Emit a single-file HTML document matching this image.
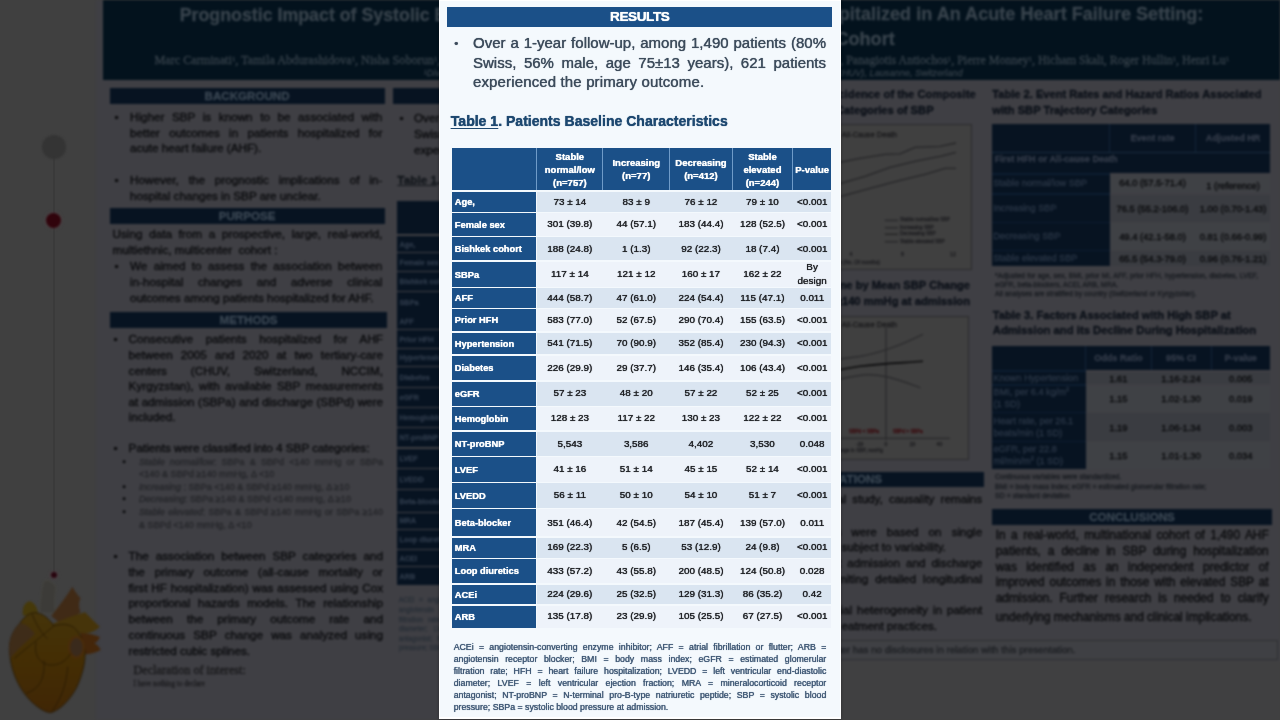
<!DOCTYPE html>
<html lang="en"><head><meta charset="utf-8"><title>Poster - Results</title>
<style>
html,body{margin:0;padding:0;}
body{width:1280px;height:720px;overflow:hidden;background:#404040;font-family:"Liberation Sans",sans-serif;position:relative;}
.t{position:absolute;white-space:nowrap;margin:0;padding:0;}
.r{position:absolute;}
#poster{position:absolute;left:0;top:0;width:1280px;height:720px;filter:blur(0.8px);-webkit-text-stroke:0.3px currentColor;}
#modal{z-index:5;position:absolute;left:438.7px;top:0;width:402.6px;height:718.6px;background:#ffffff;box-shadow:0 0 3px rgba(0,0,0,.3);}
#minner{position:absolute;left:1.4px;top:0.6px;width:399.8px;height:716.6px;background:#f4f9fd;}
#mfx{position:absolute;left:0;top:0;width:402.6px;height:718.6px;-webkit-text-stroke:0.15px currentColor;}
#mfx .t{text-shadow:0 0 0.8px currentColor;}
table{border-collapse:separate;border-spacing:0;}
</style></head><body>

<div id="rail">
<div class="r" style="left:53.1px;top:150.0px;width:1.8px;height:425.0px;background:#3a3a3a;"></div>
<div class="r" style="left:41.8px;top:134.7px;width:24px;height:24px;border-radius:50%;background:#343434;filter:blur(0.8px);"></div>
<div class="r" style="left:46.3px;top:212.5px;width:15px;height:15px;border-radius:50%;background:#30040c;box-shadow:0 0 2px 1px rgba(90,70,74,.55);filter:blur(0.8px);"></div>
<div class="r" style="left:50.6px;top:571.6px;width:6.8px;height:6.8px;border-radius:50%;background:#28050f;box-shadow:0 0 2px 1px rgba(90,66,74,.6);filter:blur(0.8px);z-index:3;"></div>
<svg class="r" style="left:0;top:572px;filter:blur(0.8px);z-index:2;" width="112" height="148" viewBox="0 0 545 720"><defs><linearGradient id="hg" x1="0" y1="0" x2="0" y2="1"><stop offset="0" stop-color="#45340a"/><stop offset="0.45" stop-color="#442e04"/><stop offset="1" stop-color="#402606"/></linearGradient></defs><path d="M192,200 C196,140 202,84 214,44 C232,34 256,48 272,72 C266,110 264,150 268,200 Z" fill="#3c3b38" stroke="#45443f" stroke-width="5"/><path d="M112,212 C106,176 118,146 146,142 C170,150 182,176 190,214 Z" fill="#46390a"/><path d="M250,214 C286,168 318,128 352,72 C366,96 376,112 392,128 C380,150 384,176 392,196 C360,222 318,238 286,244 Z" fill="#402a16"/><path d="M236,262 C300,232 360,210 414,196 C440,224 462,246 486,266 C466,286 440,296 410,300 C350,300 290,300 246,318 Z" fill="#46340a"/><path d="M392,296 C430,300 460,306 486,316 C480,332 470,342 458,346 C474,356 484,366 490,380 C470,392 446,398 420,400 C406,400 396,396 388,390 Z" fill="#44260a"/><path d="M96,250 C56,290 36,350 50,420 C60,500 100,580 154,632 C190,664 220,684 250,684 C296,668 340,624 374,560 C398,506 416,446 414,390 C410,340 392,300 360,270 C330,250 296,252 262,262 C236,222 200,196 166,198 C136,202 114,222 96,250 Z" fill="url(#hg)" stroke="#241704" stroke-width="4"/><path d="M50,420 C34,352 52,290 96,250 C112,246 140,262 170,300 C136,334 88,372 50,420 Z" fill="#3e2c1c" opacity="0.9"/><ellipse cx="372" cy="366" rx="36" ry="50" fill="#3a2a1c" stroke="#4a2c0a" stroke-width="11"/><g fill="none" stroke="#231603" stroke-width="3.5"><path d="M70,420 C130,370 206,310 262,262"/><path d="M176,340 C164,396 186,440 236,452 C290,458 326,428 344,396"/><path d="M214,430 C220,510 196,570 126,590"/><path d="M330,460 C322,550 300,612 254,676"/><path d="M156,204 C176,256 204,300 232,326"/></g></svg>
</div>
<div id="poster">
<div class="r" style="left:96.0px;top:0.0px;width:1184.0px;height:720.0px;background:#3f3f44;"></div>
<div class="r" style="left:102.5px;top:0.0px;width:1177.5px;height:79.7px;background:#03121d;"></div>
<div class="t" style="left:179.7px;top:3.6px;font-size:17.8px;line-height:23.14px;color:#38434c;font-weight:bold;">Prognostic Impact of Systolic Blood Pressure Trajectories</div>
<div class="t" style="left:303.4px;top:3.4px;font-size:18.1px;line-height:23.53px;color:#38434c;width:900.0px;font-weight:bold;text-align:right;">in Patients Hospitalized in An Acute Heart Failure Setting:</div>
<div class="t" style="left:-5.3px;top:28.4px;font-size:18.1px;line-height:23.53px;color:#38434c;width:900.0px;font-weight:bold;text-align:right;">Insights from a Swiss-Kyrgyz Multicenter Cohort</div>
<div class="t" style="left:154.4px;top:52.8px;font-size:12.2px;line-height:15.86px;color:#36414a;font-family:'Liberation Serif', serif;">Marc Carminati<sup style="font-size:55%;line-height:0;vertical-align:baseline;position:relative;top:-0.45em;">1</sup>, Tamila Abdurashidova<sup style="font-size:55%;line-height:0;vertical-align:baseline;position:relative;top:-0.45em;">1</sup>, Nisha Soborun<sup style="font-size:55%;line-height:0;vertical-align:baseline;position:relative;top:-0.45em;">1</sup>, Sara Schukraft<sup style="font-size:55%;line-height:0;vertical-align:baseline;position:relative;top:-0.45em;">1</sup>,</div>
<div class="t" style="left:329.0px;top:53.0px;font-size:12.0px;line-height:15.6px;color:#36414a;width:900.0px;font-family:'Liberation Serif', serif;text-align:right;">Georgios Tzimas<sup style="font-size:55%;line-height:0;vertical-align:baseline;position:relative;top:-0.45em;">1</sup>, Panagiotis Antiochos<sup style="font-size:55%;line-height:0;vertical-align:baseline;position:relative;top:-0.45em;">1</sup>, Pierre Monney<sup style="font-size:55%;line-height:0;vertical-align:baseline;position:relative;top:-0.45em;">1</sup>, Hicham Skali, Roger Hullin<sup style="font-size:55%;line-height:0;vertical-align:baseline;position:relative;top:-0.45em;">1</sup>, Henri Lu<sup style="font-size:55%;line-height:0;vertical-align:baseline;position:relative;top:-0.45em;">1</sup></div>
<div class="t" style="left:424.0px;top:68.0px;font-size:9.2px;line-height:11.96px;color:#333e47;font-style:italic;"><sup style="font-size:55%;line-height:0;vertical-align:baseline;position:relative;top:-0.45em;">1</sup>Division of Cardiology, Lausanne University</div>
<div class="t" style="left:62.5px;top:68.0px;font-size:9.2px;line-height:11.96px;color:#333e47;width:900.0px;font-style:italic;text-align:right;">Hospital and University of Lausanne (CHUV), Lausanne, Switzerland</div>
<div class="r" style="left:109.5px;top:88.3px;width:275.2px;height:16.1px;background:#071321;"></div>
<div class="t" style="left:109.5px;top:88.1px;font-size:11.6px;line-height:15.08px;color:#3b4753;width:275.2px;font-weight:bold;text-align:center;">BACKGROUND</div>
<div class="r" style="left:109.5px;top:208.3px;width:275.2px;height:15.6px;background:#071321;"></div>
<div class="t" style="left:109.5px;top:207.9px;font-size:11.6px;line-height:15.08px;color:#3b4753;width:275.2px;font-weight:bold;text-align:center;">PURPOSE</div>
<div class="r" style="left:109.7px;top:312.2px;width:277.8px;height:15.8px;background:#071321;"></div>
<div class="t" style="left:109.7px;top:311.9px;font-size:11.6px;line-height:15.08px;color:#3b4753;width:277.8px;font-weight:bold;text-align:center;">METHODS</div>
<div class="r" style="left:393.3px;top:88.3px;width:307.7px;height:16.1px;background:#071321;"></div>
<div class="t" style="left:393.3px;top:88.1px;font-size:11.6px;line-height:15.08px;color:#3b4753;width:307.7px;font-weight:bold;text-align:center;">RESULTS</div>
<div class="r" style="left:708.0px;top:471.5px;width:275.7px;height:15.5px;background:#071321;"></div>
<div class="t" style="left:708.0px;top:471.0px;font-size:11.6px;line-height:15.08px;color:#3b4753;width:275.7px;font-weight:bold;text-align:center;">LIMITATIONS</div>
<div class="r" style="left:992.0px;top:509.3px;width:280.0px;height:15.3px;background:#071321;"></div>
<div class="t" style="left:992.0px;top:508.7px;font-size:11.6px;line-height:15.08px;color:#3b4753;width:280.0px;font-weight:bold;text-align:center;">CONCLUSIONS</div>
<div class="t" style="left:114.5px;top:109.2px;font-size:11.7px;line-height:15.21px;color:#08090b;">•</div>
<div class="t" style="left:130.0px;top:109.2px;font-size:11.7px;line-height:15.21px;color:#08090b;width:252.3px;text-align:justify;text-align-last:justify;">Higher SBP is known to be associated with</div>
<div class="t" style="left:130.0px;top:125.0px;font-size:11.7px;line-height:15.21px;color:#08090b;width:252.3px;text-align:justify;text-align-last:justify;">better outcomes in patients hospitalized for</div>
<div class="t" style="left:130.0px;top:140.4px;font-size:11.7px;line-height:15.21px;color:#08090b;">acute heart failure (AHF).</div>
<div class="t" style="left:114.5px;top:172.2px;font-size:11.7px;line-height:15.21px;color:#08090b;">•</div>
<div class="t" style="left:130.0px;top:172.2px;font-size:11.7px;line-height:15.21px;color:#08090b;width:252.3px;text-align:justify;text-align-last:justify;">However, the prognostic implications of in-</div>
<div class="t" style="left:130.0px;top:187.6px;font-size:11.7px;line-height:15.21px;color:#08090b;">hospital changes in SBP are unclear.</div>
<div class="t" style="left:112.5px;top:226.4px;font-size:11.7px;line-height:15.21px;color:#08090b;width:269.8px;text-align:justify;text-align-last:justify;">Using data from a prospective, large, real-world,</div>
<div class="t" style="left:112.5px;top:242.2px;font-size:11.7px;line-height:15.21px;color:#08090b;">multiethnic, multicenter  cohort :</div>
<div class="t" style="left:114.5px;top:258.2px;font-size:11.7px;line-height:15.21px;color:#08090b;">•</div>
<div class="t" style="left:130.0px;top:258.2px;font-size:11.7px;line-height:15.21px;color:#08090b;width:252.3px;text-align:justify;text-align-last:justify;">We aimed to assess the association between</div>
<div class="t" style="left:130.0px;top:273.9px;font-size:11.7px;line-height:15.21px;color:#08090b;width:252.3px;text-align:justify;text-align-last:justify;">in-hospital changes and adverse clinical</div>
<div class="t" style="left:130.0px;top:289.7px;font-size:11.7px;line-height:15.21px;color:#08090b;">outcomes among patients hospitalized for AHF.</div>
<div class="t" style="left:113.5px;top:330.8px;font-size:11.7px;line-height:15.21px;color:#08090b;">•</div>
<div class="t" style="left:128.6px;top:330.8px;font-size:11.7px;line-height:15.21px;color:#08090b;width:254.4px;text-align:justify;text-align-last:justify;">Consecutive patients hospitalized for AHF</div>
<div class="t" style="left:128.6px;top:346.6px;font-size:11.7px;line-height:15.21px;color:#08090b;width:254.4px;text-align:justify;text-align-last:justify;">between 2005 and 2020 at two tertiary-care</div>
<div class="t" style="left:128.6px;top:362.5px;font-size:11.7px;line-height:15.21px;color:#08090b;width:254.4px;text-align:justify;text-align-last:justify;">centers (CHUV, Switzerland, NCCIM,</div>
<div class="t" style="left:128.6px;top:378.0px;font-size:11.7px;line-height:15.21px;color:#08090b;width:254.4px;text-align:justify;text-align-last:justify;">Kyrgyzstan), with available SBP measurements</div>
<div class="t" style="left:128.6px;top:393.9px;font-size:11.7px;line-height:15.21px;color:#08090b;width:254.4px;text-align:justify;text-align-last:justify;">at admission (SBPa) and discharge (SBPd) were</div>
<div class="t" style="left:128.6px;top:409.4px;font-size:11.7px;line-height:15.21px;color:#08090b;">included.</div>
<div class="t" style="left:113.5px;top:440.4px;font-size:11.7px;line-height:15.21px;color:#08090b;">•</div>
<div class="t" style="left:128.6px;top:440.4px;font-size:11.7px;line-height:15.21px;color:#08090b;">Patients were classified into 4 SBP categories:</div>
<div class="t" style="left:122.5px;top:456.9px;font-size:9.1px;line-height:11.83px;color:#08090b;">•</div>
<div class="t" style="left:139.0px;top:456.9px;font-size:9.1px;line-height:11.83px;color:#25262a;width:244.0px;text-align:justify;text-align-last:justify;"><i>Stable normal/low</i>: SBPa &amp; SBPd &lt;140 mmHg or SBPa</div>
<div class="t" style="left:139.0px;top:468.5px;font-size:9.1px;line-height:11.83px;color:#25262a;">&lt;140 &amp; SBPd ≥140 mmHg, Δ &lt;10</div>
<div class="t" style="left:122.5px;top:481.7px;font-size:9.1px;line-height:11.83px;color:#08090b;">•</div>
<div class="t" style="left:139.0px;top:481.7px;font-size:9.1px;line-height:11.83px;color:#25262a;"><i>Increasing</i> : SBPa &lt;140 &amp; SBPd ≥140 mmHg, Δ ≥10</div>
<div class="t" style="left:122.5px;top:494.1px;font-size:9.1px;line-height:11.83px;color:#08090b;">•</div>
<div class="t" style="left:139.0px;top:494.1px;font-size:9.1px;line-height:11.83px;color:#25262a;"><i>Decreasing</i>: SBPa ≥140 &amp; SBPd &lt;140 mmHg, Δ ≥10</div>
<div class="t" style="left:122.5px;top:506.9px;font-size:9.1px;line-height:11.83px;color:#08090b;">•</div>
<div class="t" style="left:139.0px;top:506.9px;font-size:9.1px;line-height:11.83px;color:#25262a;width:244.0px;text-align:justify;text-align-last:justify;"><i>Stable elevated</i>: SBPa &amp; SBPd ≥140 mmHg or SBPa ≥140</div>
<div class="t" style="left:139.0px;top:519.7px;font-size:9.1px;line-height:11.83px;color:#25262a;">&amp; SBPd &lt;140 mmHg, Δ &lt;10</div>
<div class="t" style="left:113.5px;top:547.8px;font-size:11.7px;line-height:15.21px;color:#08090b;">•</div>
<div class="t" style="left:128.6px;top:547.8px;font-size:11.7px;line-height:15.21px;color:#08090b;width:254.4px;text-align:justify;text-align-last:justify;">The association between SBP categories and</div>
<div class="t" style="left:128.6px;top:563.8px;font-size:11.7px;line-height:15.21px;color:#08090b;width:254.4px;text-align:justify;text-align-last:justify;">the primary outcome (all-cause mortality or</div>
<div class="t" style="left:128.6px;top:579.6px;font-size:11.7px;line-height:15.21px;color:#08090b;width:254.4px;text-align:justify;text-align-last:justify;">first HF hospitalization) was assessed using Cox</div>
<div class="t" style="left:128.6px;top:595.4px;font-size:11.7px;line-height:15.21px;color:#08090b;width:254.4px;text-align:justify;text-align-last:justify;">proportional hazards models. The relationship</div>
<div class="t" style="left:128.6px;top:611.2px;font-size:11.7px;line-height:15.21px;color:#08090b;width:254.4px;text-align:justify;text-align-last:justify;">between the primary outcome rate and</div>
<div class="t" style="left:128.6px;top:627.0px;font-size:11.7px;line-height:15.21px;color:#08090b;width:254.4px;text-align:justify;text-align-last:justify;">continuous SBP change was analyzed using</div>
<div class="t" style="left:128.6px;top:642.8px;font-size:11.7px;line-height:15.21px;color:#08090b;">restricted cubic splines.</div>
<div class="t" style="left:133.5px;top:663.1px;font-size:12.2px;line-height:15.86px;color:#18181a;font-family:'Liberation Serif', serif;">Declaration of interest:</div>
<div class="t" style="left:133.5px;top:679.7px;font-size:7.2px;line-height:9.36px;color:#1d1d20;font-family:'Liberation Serif', serif;">I have nothing to declare</div>
<div class="t" style="left:399.5px;top:110.2px;font-size:11.7px;line-height:15.21px;color:#08090b;">•</div>
<div class="t" style="left:414.0px;top:110.2px;font-size:11.7px;line-height:15.21px;color:#08090b;width:283.0px;text-align:justify;text-align-last:justify;">Over a 1-year follow-up, among 1,490 patients (80%</div>
<div class="t" style="left:414.0px;top:126.0px;font-size:11.7px;line-height:15.21px;color:#08090b;width:283.0px;text-align:justify;text-align-last:justify;">Swiss, 56% male, age 75±13 years), 621 patients</div>
<div class="t" style="left:414.0px;top:141.8px;font-size:11.7px;line-height:15.21px;color:#08090b;">experienced the primary outcome.</div>
<div class="t" style="left:397.3px;top:172.7px;font-size:11.8px;line-height:15.34px;color:#101419;font-weight:bold;"><u>Table 1</u>. Patients Baseline Characteristics</div>
<div class="r" style="left:397.0px;top:201.0px;width:303.8px;height:33.4px;background:#071321;"></div>
<div class="r" style="left:397.0px;top:236.2px;width:67.8px;height:15.9px;background:#071321;"></div>
<div class="r" style="left:465.5px;top:236.2px;width:235.2px;height:15.9px;background:#3a3c41;"></div>
<div class="t" style="left:399.5px;top:239.9px;font-size:7.3px;line-height:9.49px;color:#2e3a4a;font-weight:bold;">Age,</div>
<div class="r" style="left:397.0px;top:253.2px;width:67.8px;height:18.0px;background:#071321;"></div>
<div class="r" style="left:465.5px;top:253.2px;width:235.2px;height:18.0px;background:#3e4045;"></div>
<div class="t" style="left:399.5px;top:257.9px;font-size:7.3px;line-height:9.49px;color:#2e3a4a;font-weight:bold;">Female sex</div>
<div class="r" style="left:397.0px;top:272.3px;width:67.8px;height:18.7px;background:#071321;"></div>
<div class="r" style="left:465.5px;top:272.3px;width:235.2px;height:18.7px;background:#3a3c41;"></div>
<div class="t" style="left:399.5px;top:277.4px;font-size:7.3px;line-height:9.49px;color:#2e3a4a;font-weight:bold;">Bishkek cohort</div>
<div class="r" style="left:397.0px;top:292.0px;width:67.8px;height:20.5px;background:#071321;"></div>
<div class="r" style="left:465.5px;top:292.0px;width:235.2px;height:20.5px;background:#3e4045;"></div>
<div class="t" style="left:399.5px;top:297.9px;font-size:7.3px;line-height:9.49px;color:#2e3a4a;font-weight:bold;">SBPa</div>
<div class="r" style="left:397.0px;top:313.4px;width:67.8px;height:15.5px;background:#071321;"></div>
<div class="r" style="left:465.5px;top:313.4px;width:235.2px;height:15.5px;background:#3a3c41;"></div>
<div class="t" style="left:399.5px;top:316.9px;font-size:7.3px;line-height:9.49px;color:#2e3a4a;font-weight:bold;">AFF</div>
<div class="r" style="left:397.0px;top:329.9px;width:67.8px;height:17.8px;background:#071321;"></div>
<div class="r" style="left:465.5px;top:329.9px;width:235.2px;height:17.8px;background:#3e4045;"></div>
<div class="t" style="left:399.5px;top:334.5px;font-size:7.3px;line-height:9.49px;color:#2e3a4a;font-weight:bold;">Prior HFH</div>
<div class="r" style="left:397.0px;top:348.7px;width:67.8px;height:17.4px;background:#071321;"></div>
<div class="r" style="left:465.5px;top:348.7px;width:235.2px;height:17.4px;background:#3a3c41;"></div>
<div class="t" style="left:399.5px;top:353.1px;font-size:7.3px;line-height:9.49px;color:#2e3a4a;font-weight:bold;">Hypertension</div>
<div class="r" style="left:397.0px;top:367.1px;width:67.8px;height:19.9px;background:#071321;"></div>
<div class="r" style="left:465.5px;top:367.1px;width:235.2px;height:19.9px;background:#3e4045;"></div>
<div class="t" style="left:399.5px;top:372.8px;font-size:7.3px;line-height:9.49px;color:#2e3a4a;font-weight:bold;">Diabetes</div>
<div class="r" style="left:397.0px;top:388.0px;width:67.8px;height:19.2px;background:#071321;"></div>
<div class="r" style="left:465.5px;top:388.0px;width:235.2px;height:19.2px;background:#3a3c41;"></div>
<div class="t" style="left:399.5px;top:393.3px;font-size:7.3px;line-height:9.49px;color:#2e3a4a;font-weight:bold;">eGFR</div>
<div class="r" style="left:397.0px;top:408.1px;width:67.8px;height:18.8px;background:#071321;"></div>
<div class="r" style="left:465.5px;top:408.1px;width:235.2px;height:18.8px;background:#3e4045;"></div>
<div class="t" style="left:399.5px;top:413.3px;font-size:7.3px;line-height:9.49px;color:#2e3a4a;font-weight:bold;">Hemoglobin</div>
<div class="r" style="left:397.0px;top:427.9px;width:67.8px;height:19.6px;background:#071321;"></div>
<div class="r" style="left:465.5px;top:427.9px;width:235.2px;height:19.6px;background:#3a3c41;"></div>
<div class="t" style="left:399.5px;top:433.4px;font-size:7.3px;line-height:9.49px;color:#2e3a4a;font-weight:bold;">NT-proBNP</div>
<div class="r" style="left:397.0px;top:448.5px;width:67.8px;height:19.7px;background:#071321;"></div>
<div class="r" style="left:465.5px;top:448.5px;width:235.2px;height:19.7px;background:#3e4045;"></div>
<div class="t" style="left:399.5px;top:454.0px;font-size:7.3px;line-height:9.49px;color:#2e3a4a;font-weight:bold;">LVEF</div>
<div class="r" style="left:397.0px;top:469.1px;width:67.8px;height:19.8px;background:#071321;"></div>
<div class="r" style="left:465.5px;top:469.1px;width:235.2px;height:19.8px;background:#3a3c41;"></div>
<div class="t" style="left:399.5px;top:474.7px;font-size:7.3px;line-height:9.49px;color:#2e3a4a;font-weight:bold;">LVEDD</div>
<div class="r" style="left:397.0px;top:489.9px;width:67.8px;height:21.8px;background:#071321;"></div>
<div class="r" style="left:465.5px;top:489.9px;width:235.2px;height:21.8px;background:#3e4045;"></div>
<div class="t" style="left:399.5px;top:496.5px;font-size:7.3px;line-height:9.49px;color:#2e3a4a;font-weight:bold;">Beta-blocker</div>
<div class="r" style="left:397.0px;top:512.7px;width:67.8px;height:16.0px;background:#071321;"></div>
<div class="r" style="left:465.5px;top:512.7px;width:235.2px;height:16.0px;background:#3a3c41;"></div>
<div class="t" style="left:399.5px;top:516.4px;font-size:7.3px;line-height:9.49px;color:#2e3a4a;font-weight:bold;">MRA</div>
<div class="r" style="left:397.0px;top:529.7px;width:67.8px;height:19.8px;background:#071321;"></div>
<div class="r" style="left:465.5px;top:529.7px;width:235.2px;height:19.8px;background:#3e4045;"></div>
<div class="t" style="left:399.5px;top:535.3px;font-size:7.3px;line-height:9.49px;color:#2e3a4a;font-weight:bold;">Loop diuretics</div>
<div class="r" style="left:397.0px;top:550.4px;width:67.8px;height:15.8px;background:#071321;"></div>
<div class="r" style="left:465.5px;top:550.4px;width:235.2px;height:15.8px;background:#3a3c41;"></div>
<div class="t" style="left:399.5px;top:554.0px;font-size:7.3px;line-height:9.49px;color:#2e3a4a;font-weight:bold;">ACEi</div>
<div class="r" style="left:397.0px;top:567.2px;width:67.8px;height:17.6px;background:#071321;"></div>
<div class="r" style="left:465.5px;top:567.2px;width:235.2px;height:17.6px;background:#3e4045;"></div>
<div class="t" style="left:399.5px;top:571.7px;font-size:7.3px;line-height:9.49px;color:#2e3a4a;font-weight:bold;">ARB</div>
<div class="t" style="left:398.7px;top:596.3px;font-size:6.9px;line-height:8.97px;color:#2a3038;width:298.0px;text-align:justify;text-align-last:justify;">ACEi = angiotensin-converting enzyme inhibitor; AFF = atrial fibrillation or flutter; ARB =</div>
<div class="t" style="left:398.7px;top:605.9px;font-size:6.9px;line-height:8.97px;color:#2a3038;width:298.0px;text-align:justify;text-align-last:justify;">angiotensin receptor blocker; BMI = body mass index; eGFR = estimated glomerular</div>
<div class="t" style="left:398.7px;top:615.5px;font-size:6.9px;line-height:8.97px;color:#2a3038;width:298.0px;text-align:justify;text-align-last:justify;">filtration rate; HFH = heart failure hospitalization; LVEDD = left ventricular end-diastolic</div>
<div class="t" style="left:398.7px;top:625.1px;font-size:6.9px;line-height:8.97px;color:#2a3038;width:298.0px;text-align:justify;text-align-last:justify;">diameter; LVEF = left ventricular ejection fraction; MRA = mineralocorticoid receptor</div>
<div class="t" style="left:398.7px;top:634.7px;font-size:6.9px;line-height:8.97px;color:#2a3038;width:298.0px;text-align:justify;text-align-last:justify;">antagonist; NT-proBNP = N-terminal pro-B-type natriuretic peptide; SBP = systolic blood</div>
<div class="t" style="left:398.7px;top:644.3px;font-size:6.9px;line-height:8.97px;color:#2a3038;">pressure; SBPa = systolic blood pressure at admission.</div>
<div class="t" style="left:75.8px;top:87.1px;font-size:11.3px;line-height:14.69px;color:#0b1018;width:900.0px;font-weight:bold;text-align:right;">Figure 1. Cumulative Incidence of the Composite</div>
<div class="t" style="left:33.6px;top:102.7px;font-size:11.2px;line-height:14.56px;color:#0b1018;width:900.0px;font-weight:bold;text-align:right;">Outcome by Trajectory Categories of SBP</div>
<div class="r" style="left:712px;top:123.6px;width:257.6px;height:144.1px;border:1px solid #2a2a2c;background:#404040;"></div>
<div class="t" style="left:780.0px;top:129.5px;font-size:7.6px;line-height:9.88px;color:#1a1a1c;width:117px;text-align:right;">First HFH or All-Cause Death</div>
<svg class="r" style="left:712px;top:123.6px;" width="259" height="146" viewBox="712 123.6 259 146"><g fill="none" stroke="#262628" stroke-width="1.3"><polyline points="730,178 760,172 800,166 841,161.8 860,158 885,154 900,153.5 915,147 940,146 956,142.6"/><polyline points="730,212 760,204 800,194 841,183 865,176 890,167 915,161 940,156 956,152"/><polyline points="730,228 760,219 800,207 841,196 870,188 900,180 925,174 945,168 956,168"/><line x1="884.8" y1="220" x2="898" y2="220"/><line x1="884.8" y1="227.3" x2="898" y2="227.3"/><line x1="884.8" y1="233.9" x2="898" y2="233.9" stroke="#222"/><line x1="884.8" y1="241.3" x2="898" y2="241.3"/></g></svg>
<div class="t" style="left:900.0px;top:217.2px;font-size:4.9px;line-height:6.37px;color:#1f1f22;">Stable normal/low SBP</div>
<div class="t" style="left:900.0px;top:224.5px;font-size:4.9px;line-height:6.37px;color:#1f1f22;">Increasing SBP</div>
<div class="t" style="left:900.0px;top:231.1px;font-size:4.9px;line-height:6.37px;color:#1f1f22;">Decreasing SBP</div>
<div class="t" style="left:900.0px;top:238.5px;font-size:4.9px;line-height:6.37px;color:#1f1f22;">Stable elevated SBP</div>
<div class="t" style="left:744.0px;top:251.3px;font-size:5.2px;line-height:6.76px;color:#1f1f22;width:8px;text-align:center;">0</div>
<div class="t" style="left:847.0px;top:251.3px;font-size:5.2px;line-height:6.76px;color:#1f1f22;width:8px;text-align:center;">4</div>
<div class="t" style="left:898.5px;top:251.3px;font-size:5.2px;line-height:6.76px;color:#1f1f22;width:8px;text-align:center;">8</div>
<div class="t" style="left:949.0px;top:251.3px;font-size:5.2px;line-height:6.76px;color:#1f1f22;width:8px;text-align:center;">12</div>
<div class="t" style="left:800.0px;top:258.5px;font-size:5.2px;line-height:6.76px;color:#1f1f22;width:80px;text-align:right;">Follow-up time (No. Of months)</div>
<div class="t" style="left:70.0px;top:278.4px;font-size:11.15px;line-height:14.5px;color:#0b1018;width:900.0px;font-weight:bold;text-align:right;">Figure 2. Primary Outcome by Mean SBP Change</div>
<div class="t" style="left:70.0px;top:293.8px;font-size:11.2px;line-height:14.56px;color:#0b1018;width:900.0px;font-weight:bold;text-align:right;">in Patients with SBP ≥140 mmHg at admission</div>
<div class="r" style="left:712px;top:315.7px;width:255px;height:142px;border:1px solid #2a2a2c;background:#404040;"></div>
<div class="t" style="left:780.0px;top:319.5px;font-size:7.6px;line-height:9.88px;color:#1a1a1c;width:117px;text-align:right;">First HFH or All-Cause Death</div>
<svg class="r" style="left:712px;top:315.7px;" width="257" height="144" viewBox="712 315.7 257 144"><g fill="none" stroke="#28282a" stroke-width="1.2"><line x1="886" y1="327" x2="886" y2="440"/><line x1="730" y1="438" x2="950" y2="438"/><path d="M780,368 C810,363 841,358.4 860,356 C885,352 905,343 923,334"/><path d="M780,392 C810,385 841,378 860,375 C880,372 900,380 920.4,387.5"/><path d="M780,382 C810,374 841,369 860,366 C885,363 905,362.5 923,361" stroke="#0c0c0d" stroke-width="1.6"/></g></svg>
<div class="t" style="left:849.0px;top:429.1px;font-size:4.8px;line-height:6.24px;color:#3a0a0e;">SBPd &lt; SBPa</div>
<div class="t" style="left:892.7px;top:429.1px;font-size:4.8px;line-height:6.24px;color:#3a0a0e;">SBPd &gt; SBPa</div>
<div class="t" style="left:854.7px;top:440.5px;font-size:5.0px;line-height:6.5px;color:#1f1f22;width:10px;text-align:center;">-20</div>
<div class="t" style="left:881.0px;top:440.5px;font-size:5.0px;line-height:6.5px;color:#1f1f22;width:10px;text-align:center;">0</div>
<div class="t" style="left:907.5px;top:440.5px;font-size:5.0px;line-height:6.5px;color:#1f1f22;width:10px;text-align:center;">20</div>
<div class="t" style="left:934.4px;top:440.5px;font-size:5.0px;line-height:6.5px;color:#1f1f22;width:10px;text-align:center;">40</div>
<div class="t" style="left:783.0px;top:446.9px;font-size:5.0px;line-height:6.5px;color:#1f1f22;width:100px;text-align:right;">Change in SBP, mmHg</div>
<div class="t" style="left:82.2px;top:491.2px;font-size:11.7px;line-height:15.21px;color:#08090b;width:900.0px;text-align:right;word-spacing:3.0px;">As an observational study, causality remains</div>
<div class="t" style="left:82.2px;top:523.8px;font-size:11.7px;line-height:15.21px;color:#08090b;width:900.0px;text-align:right;word-spacing:6.8px;">SBP trajectories were based on single</div>
<div class="t" style="left:841.5px;top:539.2px;font-size:11.7px;line-height:15.21px;color:#08090b;">subject to variability.</div>
<div class="t" style="left:82.2px;top:554.8px;font-size:11.7px;line-height:15.21px;color:#08090b;width:900.0px;text-align:right;word-spacing:2.8px;">Only SBP at admission and discharge</div>
<div class="t" style="left:82.2px;top:570.8px;font-size:11.7px;line-height:15.21px;color:#08090b;width:900.0px;text-align:right;word-spacing:3.7px;">were available, limiting detailed longitudinal</div>
<div class="t" style="left:82.2px;top:602.2px;font-size:11.7px;line-height:15.21px;color:#08090b;width:900.0px;text-align:right;word-spacing:1.8px;">There is potential heterogeneity in patient</div>
<div class="t" style="left:841.5px;top:617.7px;font-size:11.7px;line-height:15.21px;color:#08090b;">eatment practices.</div>
<div class="r" style="left:600px;top:639.8px;width:678px;height:20.2px;border:1px solid #2e2f32;border-left:none;box-sizing:border-box;background:#3f4044;"></div>
<div class="t" style="left:175.5px;top:643.8px;font-size:9.75px;line-height:12.68px;color:#1d1f23;width:900.0px;text-align:right;">The presenter has no disclosures in relation with this presentation.</div>
<div class="r" style="left:500.0px;top:661.0px;width:780.0px;height:59.0px;background:#404041;"></div>
<div class="t" style="left:992.3px;top:87.2px;font-size:11.12px;line-height:14.46px;color:#0b1018;font-weight:bold;">Table 2. Event Rates and Hazard Ratios Associated</div>
<div class="t" style="left:992.3px;top:102.8px;font-size:11.15px;line-height:14.5px;color:#0b1018;font-weight:bold;">with SBP Trajectory Categories</div>
<div class="r" style="left:992.0px;top:124.0px;width:278.4px;height:28.2px;background:#071321;"></div>
<div class="r" style="left:1109.4px;top:124.0px;width:1.0px;height:28.2px;background:#14243a;"></div>
<div class="r" style="left:1194.6px;top:124.0px;width:1.0px;height:28.2px;background:#14243a;"></div>
<div class="t" style="left:1110.0px;top:132.7px;font-size:9.1px;line-height:11.83px;color:#343c4a;width:85.0px;font-weight:bold;text-align:center;">Event rate</div>
<div class="t" style="left:1195.6px;top:132.7px;font-size:9.1px;line-height:11.83px;color:#343c4a;width:75.0px;font-weight:bold;text-align:center;">Adjusted HR</div>
<div class="r" style="left:992.0px;top:152.2px;width:278.4px;height:1.0px;background:#1a2c40;"></div>
<div class="r" style="left:992.0px;top:153.2px;width:278.4px;height:19.6px;background:#071321;"></div>
<div class="t" style="left:994.7px;top:153.7px;font-size:9.1px;line-height:11.83px;color:#343c4a;font-weight:bold;">First HFH or All-cause Death</div>
<div class="r" style="left:992.0px;top:172.8px;width:117.8px;height:92.8px;background:#0d1d30;"></div>
<div class="r" style="left:992.0px;top:174.5px;width:117.8px;height:18.9px;background:#071321;"></div>
<div class="r" style="left:1110.8px;top:174.5px;width:159.6px;height:18.9px;background:#3f4145;"></div>
<div class="t" style="left:993.2px;top:178.2px;font-size:9.2px;line-height:11.96px;color:#2b3747;">Stable normal/low SBP</div>
<div class="t" style="left:1110.0px;top:176.9px;font-size:9.4px;line-height:12.22px;color:#08090b;width:85.0px;text-align:center;">64.0 (57.5-71.4)</div>
<div class="t" style="left:1195.6px;top:180.4px;font-size:9.4px;line-height:12.22px;color:#08090b;width:75.0px;text-align:center;">1 (reference)</div>
<div class="r" style="left:992.0px;top:194.5px;width:117.8px;height:27.5px;background:#071321;"></div>
<div class="r" style="left:1110.8px;top:194.5px;width:159.6px;height:27.5px;background:#3a3c41;"></div>
<div class="t" style="left:993.2px;top:202.8px;font-size:9.2px;line-height:11.96px;color:#2b3747;">Increasing SBP</div>
<div class="t" style="left:1110.0px;top:202.7px;font-size:9.4px;line-height:12.22px;color:#08090b;width:85.0px;text-align:center;">76.5 (55.2-106.0)</div>
<div class="t" style="left:1195.6px;top:202.7px;font-size:9.4px;line-height:12.22px;color:#08090b;width:75.0px;text-align:center;">1.00 (0.70-1.43)</div>
<div class="r" style="left:992.0px;top:223.0px;width:117.8px;height:27.0px;background:#071321;"></div>
<div class="r" style="left:1110.8px;top:223.0px;width:159.6px;height:27.0px;background:#3f4145;"></div>
<div class="t" style="left:993.2px;top:231.0px;font-size:9.2px;line-height:11.96px;color:#2b3747;">Decreasing SBP</div>
<div class="t" style="left:1110.0px;top:230.9px;font-size:9.4px;line-height:12.22px;color:#08090b;width:85.0px;text-align:center;">49.4 (42.1-58.0)</div>
<div class="t" style="left:1195.6px;top:231.3px;font-size:9.4px;line-height:12.22px;color:#08090b;width:75.0px;text-align:center;">0.81 (0.66-0.99)</div>
<div class="r" style="left:992.0px;top:251.0px;width:117.8px;height:14.6px;background:#071321;"></div>
<div class="r" style="left:1110.8px;top:251.0px;width:159.6px;height:14.6px;background:#3a3c41;"></div>
<div class="t" style="left:993.2px;top:252.8px;font-size:9.2px;line-height:11.96px;color:#2b3747;">Stable elevated SBP</div>
<div class="t" style="left:1110.0px;top:252.7px;font-size:9.4px;line-height:12.22px;color:#08090b;width:85.0px;text-align:center;">65.5 (54.3-79.0)</div>
<div class="t" style="left:1195.6px;top:252.7px;font-size:9.4px;line-height:12.22px;color:#08090b;width:75.0px;text-align:center;">0.96 (0.76-1.21)</div>
<div class="t" style="left:995.0px;top:270.6px;font-size:7.0px;line-height:9.1px;color:#1a1d22;width:263.0px;text-align:justify;text-align-last:justify;">*Adjusted for age, sex, BMI, prior MI, AFF, prior HFH, hypertension, diabetes, LVEF,</div>
<div class="t" style="left:995.0px;top:280.0px;font-size:7.0px;line-height:9.1px;color:#1a1d22;">eGFR, beta-blockers, ACEi, ARB, MRA.</div>
<div class="t" style="left:995.0px;top:289.4px;font-size:7.0px;line-height:9.1px;color:#1a1d22;">All analyses are stratified by country (Switzerland or Kyrgyzstan).</div>
<div class="t" style="left:992.8px;top:307.5px;font-size:11.13px;line-height:14.47px;color:#0b1018;font-weight:bold;">Table 3. Factors Associated with High SBP at</div>
<div class="t" style="left:992.8px;top:323.1px;font-size:11.29px;line-height:14.68px;color:#0b1018;font-weight:bold;">Admission and its Decline During Hospitalization</div>
<div class="r" style="left:992.0px;top:346.0px;width:278.4px;height:24.0px;background:#071321;"></div>
<div class="r" style="left:1085.3px;top:346.0px;width:1.0px;height:24.0px;background:#14243a;"></div>
<div class="r" style="left:1150.5px;top:346.0px;width:1.0px;height:24.0px;background:#14243a;"></div>
<div class="r" style="left:1210.5px;top:346.0px;width:1.0px;height:24.0px;background:#14243a;"></div>
<div class="t" style="left:1085.8px;top:352.7px;font-size:9.1px;line-height:11.83px;color:#343c4a;width:65.2px;font-weight:bold;text-align:center;">Odds Ratio</div>
<div class="t" style="left:1151.0px;top:352.7px;font-size:9.1px;line-height:11.83px;color:#343c4a;width:60.0px;font-weight:bold;text-align:center;">95% CI</div>
<div class="t" style="left:1211.0px;top:352.7px;font-size:9.1px;line-height:11.83px;color:#343c4a;width:59.4px;font-weight:bold;text-align:center;">P-value</div>
<div class="r" style="left:992.0px;top:370.0px;width:93.8px;height:98.8px;background:#0d1d30;"></div>
<div class="r" style="left:992.0px;top:371.8px;width:93.8px;height:12.7px;background:#071321;"></div>
<div class="r" style="left:1086.8px;top:371.8px;width:183.6px;height:12.7px;background:#3a3c41;"></div>
<div class="t" style="left:993.5px;top:372.8px;font-size:9.2px;line-height:11.96px;color:#2b3747;">Known Hypertension</div>
<div class="t" style="left:1085.8px;top:372.6px;font-size:9.4px;line-height:12.22px;color:#08090b;width:65.2px;text-align:center;">1.61</div>
<div class="t" style="left:1151.0px;top:372.6px;font-size:9.4px;line-height:12.22px;color:#08090b;width:60.0px;text-align:center;">1.16-2.24</div>
<div class="t" style="left:1211.0px;top:372.6px;font-size:9.4px;line-height:12.22px;color:#08090b;width:59.4px;text-align:center;">0.005</div>
<div class="r" style="left:992.0px;top:385.5px;width:93.8px;height:26.5px;background:#071321;"></div>
<div class="r" style="left:1086.8px;top:385.5px;width:183.6px;height:26.5px;background:#3f4145;"></div>
<div class="t" style="left:993.5px;top:387.4px;font-size:9.2px;line-height:11.96px;color:#2b3747;">BMI, per 6.4 kg/m<sup style="font-size:60%;line-height:0;">2</sup></div>
<div class="t" style="left:993.5px;top:399.4px;font-size:9.2px;line-height:11.96px;color:#2b3747;">(1 SD)</div>
<div class="t" style="left:1085.8px;top:393.2px;font-size:9.4px;line-height:12.22px;color:#08090b;width:65.2px;text-align:center;">1.15</div>
<div class="t" style="left:1151.0px;top:393.2px;font-size:9.4px;line-height:12.22px;color:#08090b;width:60.0px;text-align:center;">1.02-1.30</div>
<div class="t" style="left:1211.0px;top:393.2px;font-size:9.4px;line-height:12.22px;color:#08090b;width:59.4px;text-align:center;">0.019</div>
<div class="r" style="left:992.0px;top:413.0px;width:93.8px;height:28.3px;background:#071321;"></div>
<div class="r" style="left:1086.8px;top:413.0px;width:183.6px;height:28.3px;background:#3a3c41;"></div>
<div class="t" style="left:993.5px;top:415.8px;font-size:9.2px;line-height:11.96px;color:#2b3747;">Heart rate, per 26.1</div>
<div class="t" style="left:993.5px;top:427.8px;font-size:9.2px;line-height:11.96px;color:#2b3747;">beats/min (1 SD)</div>
<div class="t" style="left:1085.8px;top:421.6px;font-size:9.4px;line-height:12.22px;color:#08090b;width:65.2px;text-align:center;">1.19</div>
<div class="t" style="left:1151.0px;top:421.6px;font-size:9.4px;line-height:12.22px;color:#08090b;width:60.0px;text-align:center;">1.06-1.34</div>
<div class="t" style="left:1211.0px;top:421.6px;font-size:9.4px;line-height:12.22px;color:#08090b;width:59.4px;text-align:center;">0.003</div>
<div class="r" style="left:992.0px;top:442.0px;width:93.8px;height:26.8px;background:#071321;"></div>
<div class="r" style="left:1086.8px;top:442.0px;width:183.6px;height:26.8px;background:#3f4145;"></div>
<div class="t" style="left:993.5px;top:444.0px;font-size:9.2px;line-height:11.96px;color:#2b3747;">eGFR, per 22.8</div>
<div class="t" style="left:993.5px;top:456.0px;font-size:9.2px;line-height:11.96px;color:#2b3747;">ml/min/m<sup style="font-size:60%;line-height:0;">2</sup> (1 SD)</div>
<div class="t" style="left:1085.8px;top:449.9px;font-size:9.4px;line-height:12.22px;color:#08090b;width:65.2px;text-align:center;">1.15</div>
<div class="t" style="left:1151.0px;top:449.9px;font-size:9.4px;line-height:12.22px;color:#08090b;width:60.0px;text-align:center;">1.01-1.30</div>
<div class="t" style="left:1211.0px;top:449.9px;font-size:9.4px;line-height:12.22px;color:#08090b;width:59.4px;text-align:center;">0.034</div>
<div class="t" style="left:995.0px;top:472.4px;font-size:7.0px;line-height:9.1px;color:#1a1d22;">Continuous variables were standardized.</div>
<div class="t" style="left:995.0px;top:481.6px;font-size:7.0px;line-height:9.1px;color:#1a1d22;">BMI = body mass index; eGFR = estimated glomerular filtration rate;</div>
<div class="t" style="left:995.0px;top:490.8px;font-size:7.0px;line-height:9.1px;color:#1a1d22;">SD = standard deviation</div>
<div class="t" style="left:995.7px;top:528.2px;font-size:11.9px;line-height:15.47px;color:#08090b;width:273.0px;text-align:justify;text-align-last:justify;">In a real-world, multinational cohort of 1,490 AHF</div>
<div class="t" style="left:995.7px;top:544.2px;font-size:11.9px;line-height:15.47px;color:#08090b;width:273.0px;text-align:justify;text-align-last:justify;">patients, a decline in SBP during hospitalization</div>
<div class="t" style="left:995.7px;top:559.8px;font-size:11.9px;line-height:15.47px;color:#08090b;width:273.0px;text-align:justify;text-align-last:justify;">was identified as an independent predictor of</div>
<div class="t" style="left:995.7px;top:575.3px;font-size:11.9px;line-height:15.47px;color:#08090b;width:273.0px;text-align:justify;text-align-last:justify;">improved outcomes in those with elevated SBP at</div>
<div class="t" style="left:995.7px;top:591.2px;font-size:11.9px;line-height:15.47px;color:#08090b;width:273.0px;text-align:justify;text-align-last:justify;">admission. Further research is needed to clarify</div>
<div class="t" style="left:995.7px;top:610.2px;font-size:11.9px;line-height:15.47px;color:#08090b;">underlying mechanisms and clinical implications.</div>
</div>
<div id="modal"><div id="minner"></div><div id="mfx">
<div class="r" style="left:8.3px;top:7.0px;width:385.5px;height:20.0px;background:#1b5088;"></div>
<div class="t" style="left:8.3px;top:8.4px;font-size:13.6px;line-height:17.68px;color:#ffffff;width:385.5px;font-weight:bold;text-align:center;letter-spacing:-0.45px;">RESULTS</div>
<div class="t" style="left:15.6px;top:35.7px;font-size:11.5px;line-height:14.95px;color:#3c4b5b;">•</div>
<div class="t" style="left:34.3px;top:33.3px;font-size:15.0px;line-height:19.5px;color:#3c4b5b;width:353.0px;text-align:justify;text-align-last:justify;">Over a 1-year follow-up, among 1,490 patients (80%</div>
<div class="t" style="left:34.3px;top:52.8px;font-size:15.0px;line-height:19.5px;color:#3c4b5b;width:353.0px;text-align:justify;text-align-last:justify;">Swiss, 56% male, age 75±13 years), 621 patients</div>
<div class="t" style="left:34.3px;top:72.3px;font-size:15.0px;line-height:19.5px;color:#3c4b5b;letter-spacing:0.14px;">experienced the primary outcome.</div>
<div class="t" style="left:12.1px;top:112.0px;font-size:14.05px;line-height:18.27px;color:#1d4870;font-weight:bold;"><span style="text-decoration:underline;text-underline-offset:2px;text-decoration-thickness:1.2px;">Table 1</span>. Patients Baseline Characteristics</div>
<div class="r" style="left:12.9px;top:147.9px;width:379.7px;height:41.9px;background:#1b5088;"></div>
<div class="r" style="left:97.6px;top:147.9px;width:1.0px;height:41.9px;background:#6f9bc8;"></div>
<div class="r" style="left:163.8px;top:147.9px;width:1.0px;height:41.9px;background:#6f9bc8;"></div>
<div class="r" style="left:230.3px;top:147.9px;width:1.0px;height:41.9px;background:#6f9bc8;"></div>
<div class="r" style="left:293.2px;top:147.9px;width:1.0px;height:41.9px;background:#6f9bc8;"></div>
<div class="r" style="left:353.3px;top:147.9px;width:1.0px;height:41.9px;background:#6f9bc8;"></div>
<div class="t" style="left:98.6px;top:150.5px;font-size:9.5px;line-height:12.35px;color:#ffffff;width:65.2px;font-weight:bold;text-align:center;">Stable</div>
<div class="t" style="left:98.6px;top:163.6px;font-size:9.5px;line-height:12.35px;color:#ffffff;width:65.2px;font-weight:bold;text-align:center;">normal/low</div>
<div class="t" style="left:98.6px;top:176.7px;font-size:9.5px;line-height:12.35px;color:#ffffff;width:65.2px;font-weight:bold;text-align:center;">(n=757)</div>
<div class="t" style="left:164.8px;top:157.0px;font-size:9.5px;line-height:12.35px;color:#ffffff;width:65.5px;font-weight:bold;text-align:center;">Increasing</div>
<div class="t" style="left:164.8px;top:170.1px;font-size:9.5px;line-height:12.35px;color:#ffffff;width:65.5px;font-weight:bold;text-align:center;">(n=77)</div>
<div class="t" style="left:231.3px;top:157.0px;font-size:9.5px;line-height:12.35px;color:#ffffff;width:61.9px;font-weight:bold;text-align:center;">Decreasing</div>
<div class="t" style="left:231.3px;top:170.1px;font-size:9.5px;line-height:12.35px;color:#ffffff;width:61.9px;font-weight:bold;text-align:center;">(n=412)</div>
<div class="t" style="left:294.2px;top:150.5px;font-size:9.5px;line-height:12.35px;color:#ffffff;width:59.1px;font-weight:bold;text-align:center;">Stable</div>
<div class="t" style="left:294.2px;top:163.6px;font-size:9.5px;line-height:12.35px;color:#ffffff;width:59.1px;font-weight:bold;text-align:center;">elevated</div>
<div class="t" style="left:294.2px;top:176.7px;font-size:9.5px;line-height:12.35px;color:#ffffff;width:59.1px;font-weight:bold;text-align:center;">(n=244)</div>
<div class="t" style="left:354.3px;top:164.4px;font-size:9.5px;line-height:12.35px;color:#ffffff;width:38.3px;font-weight:bold;text-align:center;">P-value</div>
<div class="r" style="left:12.9px;top:191.9px;width:84.7px;height:19.9px;background:#1b5088;"></div>
<div class="r" style="left:98.6px;top:191.9px;width:294.0px;height:19.9px;background:#dae5f1;"></div>
<div class="t" style="left:16.1px;top:196.1px;font-size:9.3px;line-height:12.09px;color:#ffffff;font-weight:bold;">Age,</div>
<div class="t" style="left:98.6px;top:195.7px;font-size:9.9px;line-height:12.87px;color:#1e2024;width:65.2px;text-align:center;">73 ± 14</div>
<div class="t" style="left:164.8px;top:195.7px;font-size:9.9px;line-height:12.87px;color:#1e2024;width:65.5px;text-align:center;">83 ± 9</div>
<div class="t" style="left:231.3px;top:195.7px;font-size:9.9px;line-height:12.87px;color:#1e2024;width:61.9px;text-align:center;">76 ± 12</div>
<div class="t" style="left:294.2px;top:195.7px;font-size:9.9px;line-height:12.87px;color:#1e2024;width:59.1px;text-align:center;">79 ± 10</div>
<div class="t" style="left:354.3px;top:195.7px;font-size:9.9px;line-height:12.87px;color:#1e2024;width:38.3px;text-align:center;">&lt;0.001</div>
<div class="r" style="left:12.9px;top:213.1px;width:84.7px;height:22.5px;background:#1b5088;"></div>
<div class="r" style="left:98.6px;top:213.1px;width:294.0px;height:22.5px;background:#eef3fa;"></div>
<div class="t" style="left:16.1px;top:218.6px;font-size:9.3px;line-height:12.09px;color:#ffffff;font-weight:bold;">Female sex</div>
<div class="t" style="left:98.6px;top:218.2px;font-size:9.9px;line-height:12.87px;color:#1e2024;width:65.2px;text-align:center;">301 (39.8)</div>
<div class="t" style="left:164.8px;top:218.2px;font-size:9.9px;line-height:12.87px;color:#1e2024;width:65.5px;text-align:center;">44 (57.1)</div>
<div class="t" style="left:231.3px;top:218.2px;font-size:9.9px;line-height:12.87px;color:#1e2024;width:61.9px;text-align:center;">183 (44.4)</div>
<div class="t" style="left:294.2px;top:218.2px;font-size:9.9px;line-height:12.87px;color:#1e2024;width:59.1px;text-align:center;">128 (52.5)</div>
<div class="t" style="left:354.3px;top:218.2px;font-size:9.9px;line-height:12.87px;color:#1e2024;width:38.3px;text-align:center;">&lt;0.001</div>
<div class="r" style="left:12.9px;top:237.0px;width:84.7px;height:23.4px;background:#1b5088;"></div>
<div class="r" style="left:98.6px;top:237.0px;width:294.0px;height:23.4px;background:#dae5f1;"></div>
<div class="t" style="left:16.1px;top:242.9px;font-size:9.3px;line-height:12.09px;color:#ffffff;font-weight:bold;">Bishkek cohort</div>
<div class="t" style="left:98.6px;top:242.5px;font-size:9.9px;line-height:12.87px;color:#1e2024;width:65.2px;text-align:center;">188 (24.8)</div>
<div class="t" style="left:164.8px;top:242.5px;font-size:9.9px;line-height:12.87px;color:#1e2024;width:65.5px;text-align:center;">1 (1.3)</div>
<div class="t" style="left:231.3px;top:242.5px;font-size:9.9px;line-height:12.87px;color:#1e2024;width:61.9px;text-align:center;">92 (22.3)</div>
<div class="t" style="left:294.2px;top:242.5px;font-size:9.9px;line-height:12.87px;color:#1e2024;width:59.1px;text-align:center;">18 (7.4)</div>
<div class="t" style="left:354.3px;top:242.5px;font-size:9.9px;line-height:12.87px;color:#1e2024;width:38.3px;text-align:center;">&lt;0.001</div>
<div class="r" style="left:12.9px;top:261.6px;width:84.7px;height:25.6px;background:#1b5088;"></div>
<div class="r" style="left:98.6px;top:261.6px;width:294.0px;height:25.6px;background:#eef3fa;"></div>
<div class="t" style="left:16.1px;top:268.6px;font-size:9.3px;line-height:12.09px;color:#ffffff;font-weight:bold;">SBPa</div>
<div class="t" style="left:98.6px;top:268.2px;font-size:9.9px;line-height:12.87px;color:#1e2024;width:65.2px;text-align:center;">117 ± 14</div>
<div class="t" style="left:164.8px;top:268.2px;font-size:9.9px;line-height:12.87px;color:#1e2024;width:65.5px;text-align:center;">121 ± 12</div>
<div class="t" style="left:231.3px;top:268.2px;font-size:9.9px;line-height:12.87px;color:#1e2024;width:61.9px;text-align:center;">160 ± 17</div>
<div class="t" style="left:294.2px;top:268.2px;font-size:9.9px;line-height:12.87px;color:#1e2024;width:59.1px;text-align:center;">162 ± 22</div>
<div class="t" style="left:354.3px;top:261.3px;font-size:9.9px;line-height:12.87px;color:#1e2024;width:38.3px;text-align:center;">By</div>
<div class="t" style="left:354.3px;top:275.1px;font-size:9.9px;line-height:12.87px;color:#1e2024;width:38.3px;text-align:center;">design</div>
<div class="r" style="left:12.9px;top:288.4px;width:84.7px;height:19.4px;background:#1b5088;"></div>
<div class="r" style="left:98.6px;top:288.4px;width:294.0px;height:19.4px;background:#dae5f1;"></div>
<div class="t" style="left:16.1px;top:292.3px;font-size:9.3px;line-height:12.09px;color:#ffffff;font-weight:bold;">AFF</div>
<div class="t" style="left:98.6px;top:291.9px;font-size:9.9px;line-height:12.87px;color:#1e2024;width:65.2px;text-align:center;">444 (58.7)</div>
<div class="t" style="left:164.8px;top:291.9px;font-size:9.9px;line-height:12.87px;color:#1e2024;width:65.5px;text-align:center;">47 (61.0)</div>
<div class="t" style="left:231.3px;top:291.9px;font-size:9.9px;line-height:12.87px;color:#1e2024;width:61.9px;text-align:center;">224 (54.4)</div>
<div class="t" style="left:294.2px;top:291.9px;font-size:9.9px;line-height:12.87px;color:#1e2024;width:59.1px;text-align:center;">115 (47.1)</div>
<div class="t" style="left:354.3px;top:291.9px;font-size:9.9px;line-height:12.87px;color:#1e2024;width:38.3px;text-align:center;">0.011</div>
<div class="r" style="left:12.9px;top:309.0px;width:84.7px;height:22.3px;background:#1b5088;"></div>
<div class="r" style="left:98.6px;top:309.0px;width:294.0px;height:22.3px;background:#eef3fa;"></div>
<div class="t" style="left:16.1px;top:314.4px;font-size:9.3px;line-height:12.09px;color:#ffffff;font-weight:bold;">Prior HFH</div>
<div class="t" style="left:98.6px;top:314.0px;font-size:9.9px;line-height:12.87px;color:#1e2024;width:65.2px;text-align:center;">583 (77.0)</div>
<div class="t" style="left:164.8px;top:314.0px;font-size:9.9px;line-height:12.87px;color:#1e2024;width:65.5px;text-align:center;">52 (67.5)</div>
<div class="t" style="left:231.3px;top:314.0px;font-size:9.9px;line-height:12.87px;color:#1e2024;width:61.9px;text-align:center;">290 (70.4)</div>
<div class="t" style="left:294.2px;top:314.0px;font-size:9.9px;line-height:12.87px;color:#1e2024;width:59.1px;text-align:center;">155 (63.5)</div>
<div class="t" style="left:354.3px;top:314.0px;font-size:9.9px;line-height:12.87px;color:#1e2024;width:38.3px;text-align:center;">&lt;0.001</div>
<div class="r" style="left:12.9px;top:332.5px;width:84.7px;height:21.8px;background:#1b5088;"></div>
<div class="r" style="left:98.6px;top:332.5px;width:294.0px;height:21.8px;background:#dae5f1;"></div>
<div class="t" style="left:16.1px;top:337.6px;font-size:9.3px;line-height:12.09px;color:#ffffff;font-weight:bold;">Hypertension</div>
<div class="t" style="left:98.6px;top:337.2px;font-size:9.9px;line-height:12.87px;color:#1e2024;width:65.2px;text-align:center;">541 (71.5)</div>
<div class="t" style="left:164.8px;top:337.2px;font-size:9.9px;line-height:12.87px;color:#1e2024;width:65.5px;text-align:center;">70 (90.9)</div>
<div class="t" style="left:231.3px;top:337.2px;font-size:9.9px;line-height:12.87px;color:#1e2024;width:61.9px;text-align:center;">352 (85.4)</div>
<div class="t" style="left:294.2px;top:337.2px;font-size:9.9px;line-height:12.87px;color:#1e2024;width:59.1px;text-align:center;">230 (94.3)</div>
<div class="t" style="left:354.3px;top:337.2px;font-size:9.9px;line-height:12.87px;color:#1e2024;width:38.3px;text-align:center;">&lt;0.001</div>
<div class="r" style="left:12.9px;top:355.5px;width:84.7px;height:24.9px;background:#1b5088;"></div>
<div class="r" style="left:98.6px;top:355.5px;width:294.0px;height:24.9px;background:#eef3fa;"></div>
<div class="t" style="left:16.1px;top:362.2px;font-size:9.3px;line-height:12.09px;color:#ffffff;font-weight:bold;">Diabetes</div>
<div class="t" style="left:98.6px;top:361.8px;font-size:9.9px;line-height:12.87px;color:#1e2024;width:65.2px;text-align:center;">226 (29.9)</div>
<div class="t" style="left:164.8px;top:361.8px;font-size:9.9px;line-height:12.87px;color:#1e2024;width:65.5px;text-align:center;">29 (37.7)</div>
<div class="t" style="left:231.3px;top:361.8px;font-size:9.9px;line-height:12.87px;color:#1e2024;width:61.9px;text-align:center;">146 (35.4)</div>
<div class="t" style="left:294.2px;top:361.8px;font-size:9.9px;line-height:12.87px;color:#1e2024;width:59.1px;text-align:center;">106 (43.4)</div>
<div class="t" style="left:354.3px;top:361.8px;font-size:9.9px;line-height:12.87px;color:#1e2024;width:38.3px;text-align:center;">&lt;0.001</div>
<div class="r" style="left:12.9px;top:381.6px;width:84.7px;height:24.0px;background:#1b5088;"></div>
<div class="r" style="left:98.6px;top:381.6px;width:294.0px;height:24.0px;background:#dae5f1;"></div>
<div class="t" style="left:16.1px;top:387.8px;font-size:9.3px;line-height:12.09px;color:#ffffff;font-weight:bold;">eGFR</div>
<div class="t" style="left:98.6px;top:387.4px;font-size:9.9px;line-height:12.87px;color:#1e2024;width:65.2px;text-align:center;">57 ± 23</div>
<div class="t" style="left:164.8px;top:387.4px;font-size:9.9px;line-height:12.87px;color:#1e2024;width:65.5px;text-align:center;">48 ± 20</div>
<div class="t" style="left:231.3px;top:387.4px;font-size:9.9px;line-height:12.87px;color:#1e2024;width:61.9px;text-align:center;">57 ± 22</div>
<div class="t" style="left:294.2px;top:387.4px;font-size:9.9px;line-height:12.87px;color:#1e2024;width:59.1px;text-align:center;">52 ± 25</div>
<div class="t" style="left:354.3px;top:387.4px;font-size:9.9px;line-height:12.87px;color:#1e2024;width:38.3px;text-align:center;">&lt;0.001</div>
<div class="r" style="left:12.9px;top:406.8px;width:84.7px;height:23.5px;background:#1b5088;"></div>
<div class="r" style="left:98.6px;top:406.8px;width:294.0px;height:23.5px;background:#eef3fa;"></div>
<div class="t" style="left:16.1px;top:412.8px;font-size:9.3px;line-height:12.09px;color:#ffffff;font-weight:bold;">Hemoglobin</div>
<div class="t" style="left:98.6px;top:412.4px;font-size:9.9px;line-height:12.87px;color:#1e2024;width:65.2px;text-align:center;">128 ± 23</div>
<div class="t" style="left:164.8px;top:412.4px;font-size:9.9px;line-height:12.87px;color:#1e2024;width:65.5px;text-align:center;">117 ± 22</div>
<div class="t" style="left:231.3px;top:412.4px;font-size:9.9px;line-height:12.87px;color:#1e2024;width:61.9px;text-align:center;">130 ± 23</div>
<div class="t" style="left:294.2px;top:412.4px;font-size:9.9px;line-height:12.87px;color:#1e2024;width:59.1px;text-align:center;">122 ± 22</div>
<div class="t" style="left:354.3px;top:412.4px;font-size:9.9px;line-height:12.87px;color:#1e2024;width:38.3px;text-align:center;">&lt;0.001</div>
<div class="r" style="left:12.9px;top:431.5px;width:84.7px;height:24.5px;background:#1b5088;"></div>
<div class="r" style="left:98.6px;top:431.5px;width:294.0px;height:24.5px;background:#dae5f1;"></div>
<div class="t" style="left:16.1px;top:438.0px;font-size:9.3px;line-height:12.09px;color:#ffffff;font-weight:bold;">NT-proBNP</div>
<div class="t" style="left:98.6px;top:437.6px;font-size:9.9px;line-height:12.87px;color:#1e2024;width:65.2px;text-align:center;">5,543</div>
<div class="t" style="left:164.8px;top:437.6px;font-size:9.9px;line-height:12.87px;color:#1e2024;width:65.5px;text-align:center;">3,586</div>
<div class="t" style="left:231.3px;top:437.6px;font-size:9.9px;line-height:12.87px;color:#1e2024;width:61.9px;text-align:center;">4,402</div>
<div class="t" style="left:294.2px;top:437.6px;font-size:9.9px;line-height:12.87px;color:#1e2024;width:59.1px;text-align:center;">3,530</div>
<div class="t" style="left:354.3px;top:437.6px;font-size:9.9px;line-height:12.87px;color:#1e2024;width:38.3px;text-align:center;">0.048</div>
<div class="r" style="left:12.9px;top:457.2px;width:84.7px;height:24.6px;background:#1b5088;"></div>
<div class="r" style="left:98.6px;top:457.2px;width:294.0px;height:24.6px;background:#eef3fa;"></div>
<div class="t" style="left:16.1px;top:463.7px;font-size:9.3px;line-height:12.09px;color:#ffffff;font-weight:bold;">LVEF</div>
<div class="t" style="left:98.6px;top:463.3px;font-size:9.9px;line-height:12.87px;color:#1e2024;width:65.2px;text-align:center;">41 ± 16</div>
<div class="t" style="left:164.8px;top:463.3px;font-size:9.9px;line-height:12.87px;color:#1e2024;width:65.5px;text-align:center;">51 ± 14</div>
<div class="t" style="left:231.3px;top:463.3px;font-size:9.9px;line-height:12.87px;color:#1e2024;width:61.9px;text-align:center;">45 ± 15</div>
<div class="t" style="left:294.2px;top:463.3px;font-size:9.9px;line-height:12.87px;color:#1e2024;width:59.1px;text-align:center;">52 ± 14</div>
<div class="t" style="left:354.3px;top:463.3px;font-size:9.9px;line-height:12.87px;color:#1e2024;width:38.3px;text-align:center;">&lt;0.001</div>
<div class="r" style="left:12.9px;top:483.0px;width:84.7px;height:24.8px;background:#1b5088;"></div>
<div class="r" style="left:98.6px;top:483.0px;width:294.0px;height:24.8px;background:#dae5f1;"></div>
<div class="t" style="left:16.1px;top:489.6px;font-size:9.3px;line-height:12.09px;color:#ffffff;font-weight:bold;">LVEDD</div>
<div class="t" style="left:98.6px;top:489.2px;font-size:9.9px;line-height:12.87px;color:#1e2024;width:65.2px;text-align:center;">56 ± 11</div>
<div class="t" style="left:164.8px;top:489.2px;font-size:9.9px;line-height:12.87px;color:#1e2024;width:65.5px;text-align:center;">50 ± 10</div>
<div class="t" style="left:231.3px;top:489.2px;font-size:9.9px;line-height:12.87px;color:#1e2024;width:61.9px;text-align:center;">54 ± 10</div>
<div class="t" style="left:294.2px;top:489.2px;font-size:9.9px;line-height:12.87px;color:#1e2024;width:59.1px;text-align:center;">51 ± 7</div>
<div class="t" style="left:354.3px;top:489.2px;font-size:9.9px;line-height:12.87px;color:#1e2024;width:38.3px;text-align:center;">&lt;0.001</div>
<div class="r" style="left:12.9px;top:509.0px;width:84.7px;height:27.3px;background:#1b5088;"></div>
<div class="r" style="left:98.6px;top:509.0px;width:294.0px;height:27.3px;background:#eef3fa;"></div>
<div class="t" style="left:16.1px;top:516.9px;font-size:9.3px;line-height:12.09px;color:#ffffff;font-weight:bold;">Beta-blocker</div>
<div class="t" style="left:98.6px;top:516.5px;font-size:9.9px;line-height:12.87px;color:#1e2024;width:65.2px;text-align:center;">351 (46.4)</div>
<div class="t" style="left:164.8px;top:516.5px;font-size:9.9px;line-height:12.87px;color:#1e2024;width:65.5px;text-align:center;">42 (54.5)</div>
<div class="t" style="left:231.3px;top:516.5px;font-size:9.9px;line-height:12.87px;color:#1e2024;width:61.9px;text-align:center;">187 (45.4)</div>
<div class="t" style="left:294.2px;top:516.5px;font-size:9.9px;line-height:12.87px;color:#1e2024;width:59.1px;text-align:center;">139 (57.0)</div>
<div class="t" style="left:354.3px;top:516.5px;font-size:9.9px;line-height:12.87px;color:#1e2024;width:38.3px;text-align:center;">0.011</div>
<div class="r" style="left:12.9px;top:537.5px;width:84.7px;height:20.0px;background:#1b5088;"></div>
<div class="r" style="left:98.6px;top:537.5px;width:294.0px;height:20.0px;background:#dae5f1;"></div>
<div class="t" style="left:16.1px;top:541.7px;font-size:9.3px;line-height:12.09px;color:#ffffff;font-weight:bold;">MRA</div>
<div class="t" style="left:98.6px;top:541.3px;font-size:9.9px;line-height:12.87px;color:#1e2024;width:65.2px;text-align:center;">169 (22.3)</div>
<div class="t" style="left:164.8px;top:541.3px;font-size:9.9px;line-height:12.87px;color:#1e2024;width:65.5px;text-align:center;">5 (6.5)</div>
<div class="t" style="left:231.3px;top:541.3px;font-size:9.9px;line-height:12.87px;color:#1e2024;width:61.9px;text-align:center;">53 (12.9)</div>
<div class="t" style="left:294.2px;top:541.3px;font-size:9.9px;line-height:12.87px;color:#1e2024;width:59.1px;text-align:center;">24 (9.8)</div>
<div class="t" style="left:354.3px;top:541.3px;font-size:9.9px;line-height:12.87px;color:#1e2024;width:38.3px;text-align:center;">&lt;0.001</div>
<div class="r" style="left:12.9px;top:558.7px;width:84.7px;height:24.7px;background:#1b5088;"></div>
<div class="r" style="left:98.6px;top:558.7px;width:294.0px;height:24.7px;background:#eef3fa;"></div>
<div class="t" style="left:16.1px;top:565.3px;font-size:9.3px;line-height:12.09px;color:#ffffff;font-weight:bold;">Loop diuretics</div>
<div class="t" style="left:98.6px;top:564.9px;font-size:9.9px;line-height:12.87px;color:#1e2024;width:65.2px;text-align:center;">433 (57.2)</div>
<div class="t" style="left:164.8px;top:564.9px;font-size:9.9px;line-height:12.87px;color:#1e2024;width:65.5px;text-align:center;">43 (55.8)</div>
<div class="t" style="left:231.3px;top:564.9px;font-size:9.9px;line-height:12.87px;color:#1e2024;width:61.9px;text-align:center;">200 (48.5)</div>
<div class="t" style="left:294.2px;top:564.9px;font-size:9.9px;line-height:12.87px;color:#1e2024;width:59.1px;text-align:center;">124 (50.8)</div>
<div class="t" style="left:354.3px;top:564.9px;font-size:9.9px;line-height:12.87px;color:#1e2024;width:38.3px;text-align:center;">0.028</div>
<div class="r" style="left:12.9px;top:584.6px;width:84.7px;height:19.8px;background:#1b5088;"></div>
<div class="r" style="left:98.6px;top:584.6px;width:294.0px;height:19.8px;background:#dae5f1;"></div>
<div class="t" style="left:16.1px;top:588.7px;font-size:9.3px;line-height:12.09px;color:#ffffff;font-weight:bold;">ACEi</div>
<div class="t" style="left:98.6px;top:588.3px;font-size:9.9px;line-height:12.87px;color:#1e2024;width:65.2px;text-align:center;">224 (29.6)</div>
<div class="t" style="left:164.8px;top:588.3px;font-size:9.9px;line-height:12.87px;color:#1e2024;width:65.5px;text-align:center;">25 (32.5)</div>
<div class="t" style="left:231.3px;top:588.3px;font-size:9.9px;line-height:12.87px;color:#1e2024;width:61.9px;text-align:center;">129 (31.3)</div>
<div class="t" style="left:294.2px;top:588.3px;font-size:9.9px;line-height:12.87px;color:#1e2024;width:59.1px;text-align:center;">86 (35.2)</div>
<div class="t" style="left:354.3px;top:588.3px;font-size:9.9px;line-height:12.87px;color:#1e2024;width:38.3px;text-align:center;">0.42</div>
<div class="r" style="left:12.9px;top:605.6px;width:84.7px;height:22.0px;background:#1b5088;"></div>
<div class="r" style="left:98.6px;top:605.6px;width:294.0px;height:22.0px;background:#eef3fa;"></div>
<div class="t" style="left:16.1px;top:610.8px;font-size:9.3px;line-height:12.09px;color:#ffffff;font-weight:bold;">ARB</div>
<div class="t" style="left:98.6px;top:610.4px;font-size:9.9px;line-height:12.87px;color:#1e2024;width:65.2px;text-align:center;">135 (17.8)</div>
<div class="t" style="left:164.8px;top:610.4px;font-size:9.9px;line-height:12.87px;color:#1e2024;width:65.5px;text-align:center;">23 (29.9)</div>
<div class="t" style="left:231.3px;top:610.4px;font-size:9.9px;line-height:12.87px;color:#1e2024;width:61.9px;text-align:center;">105 (25.5)</div>
<div class="t" style="left:294.2px;top:610.4px;font-size:9.9px;line-height:12.87px;color:#1e2024;width:59.1px;text-align:center;">67 (27.5)</div>
<div class="t" style="left:354.3px;top:610.4px;font-size:9.9px;line-height:12.87px;color:#1e2024;width:38.3px;text-align:center;">&lt;0.001</div>
<div class="t" style="left:15.0px;top:641.6px;font-size:8.78px;line-height:11.41px;color:#3f5875;width:372.6px;text-align:justify;text-align-last:justify;">ACEi = angiotensin-converting enzyme inhibitor; AFF = atrial fibrillation or flutter; ARB =</div>
<div class="t" style="left:15.0px;top:653.6px;font-size:8.78px;line-height:11.41px;color:#3f5875;width:372.6px;text-align:justify;text-align-last:justify;">angiotensin receptor blocker; BMI = body mass index; eGFR = estimated glomerular</div>
<div class="t" style="left:15.0px;top:665.6px;font-size:8.78px;line-height:11.41px;color:#3f5875;width:372.6px;text-align:justify;text-align-last:justify;">filtration rate; HFH = heart failure hospitalization; LVEDD = left ventricular end-diastolic</div>
<div class="t" style="left:15.0px;top:677.6px;font-size:8.78px;line-height:11.41px;color:#3f5875;width:372.6px;text-align:justify;text-align-last:justify;">diameter; LVEF = left ventricular ejection fraction; MRA = mineralocorticoid receptor</div>
<div class="t" style="left:15.0px;top:689.6px;font-size:8.78px;line-height:11.41px;color:#3f5875;width:372.6px;text-align:justify;text-align-last:justify;">antagonist; NT-proBNP = N-terminal pro-B-type natriuretic peptide; SBP = systolic blood</div>
<div class="t" style="left:15.0px;top:701.6px;font-size:8.78px;line-height:11.41px;color:#3f5875;">pressure; SBPa = systolic blood pressure at admission.</div>
</div></div>
</body></html>
